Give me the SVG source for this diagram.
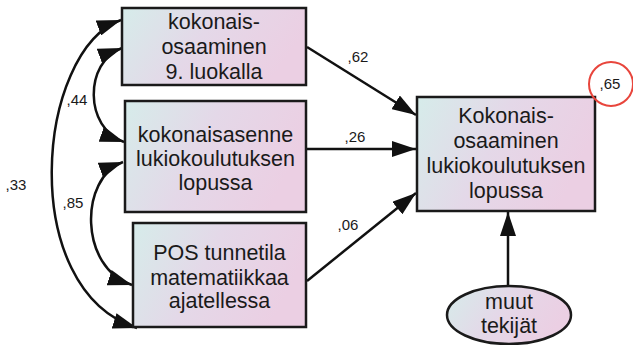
<svg xmlns="http://www.w3.org/2000/svg" width="633" height="345" viewBox="0 0 633 345">
<style>
.box{stroke:#1a1a1a;stroke-width:2.5;fill:url(#g)}
.t{font-family:"Liberation Sans",Arial,sans-serif;font-size:21.5px;fill:#1a1a1a;text-anchor:middle}
.l{font-family:"Liberation Sans",Arial,sans-serif;font-size:15px;fill:#1a1a1a;text-anchor:middle}
.c{stroke:#111;stroke-width:2.5;fill:none}
</style>
<defs>
<linearGradient id="g" x1="0" y1="0" x2="1" y2="0.3">
<stop offset="0" stop-color="#d6ecea"/>
<stop offset="0.5" stop-color="#e4d8e8"/>
<stop offset="1" stop-color="#ebcfe3"/>
</linearGradient>
<marker id="h" viewBox="0 0 24 16" refX="24" refY="8" markerWidth="24" markerHeight="16" markerUnits="userSpaceOnUse" orient="auto">
<path d="M0,0 L24,8 L0,16 z" fill="#111"/>
</marker>
<marker id="hs" viewBox="0 0 24 16" refX="0" refY="8" markerWidth="24" markerHeight="16" markerUnits="userSpaceOnUse" orient="auto">
<path d="M24,0 L0,8 L24,16 z" fill="#111"/>
</marker>
</defs>
<g id="connectors">
<path class="c" d="M307,47 L416,115" marker-end="url(#h)"/>
<path class="c" d="M307,149 L416,149" marker-end="url(#h)"/>
<path class="c" d="M307,281 L416,193" marker-end="url(#h)"/>
<path class="c" d="M508,286 L508,212" marker-end="url(#h)"/>
<path class="c" d="M121,20 C36,50 16,290 137,328" marker-start="url(#hs)" marker-end="url(#h)"/>
<path class="c" d="M122,48 C84,62 84,128 124,142" marker-start="url(#hs)" marker-end="url(#h)"/>
<path class="c" d="M123,162 C79,178 79,268 132,285" marker-start="url(#hs)" marker-end="url(#h)"/>
<text class="l" x="358" y="62">,62</text>
<text class="l" x="355" y="142">,26</text>
<text class="l" x="348" y="230">,06</text>
<text class="l" x="77" y="105">,44</text>
<text class="l" x="73" y="208">,85</text>
<text class="l" x="16" y="190">,33</text>
</g>
<g id="n1">
<rect class="box" x="122" y="8" width="184" height="77"/>
<text class="t" x="214" y="29">kokonais-</text>
<text class="t" x="214" y="54">osaaminen</text>
<text class="t" x="214" y="79">9. luokalla</text>
</g>
<g id="n2">
<rect class="box" x="125" y="101" width="181" height="111"/>
<text class="t" x="215.5" y="142">kokonaisasenne</text>
<text class="t" x="215.5" y="166">lukiokoulutuksen</text>
<text class="t" x="215.5" y="190">lopussa</text>
</g>
<g id="n3">
<rect class="box" x="133" y="223" width="173" height="104"/>
<text class="t" x="219.5" y="260">POS tunnetila</text>
<text class="t" x="219.5" y="285">matematiikkaa</text>
<text class="t" x="219.5" y="308">ajatellessa</text>
</g>
<g id="target">
<rect class="box" x="417" y="97" width="178" height="114"/>
<text class="t" x="506" y="123">Kokonais-</text>
<text class="t" x="506" y="148">osaaminen</text>
<text class="t" x="506" y="173">lukiokoulutuksen</text>
<text class="t" x="506" y="198">lopussa</text>
</g>
<g id="r2">
<circle cx="611" cy="84" r="22" fill="none" stroke="#e8453c" stroke-width="2"/>
<text class="l" x="610" y="89">,65</text>
</g>
<g id="muut">
<ellipse class="box" cx="509" cy="315" rx="62" ry="29"/>
<text class="t" x="509" y="309">muut</text>
<text class="t" x="509" y="333">tekijät</text>
</g>
</svg>
